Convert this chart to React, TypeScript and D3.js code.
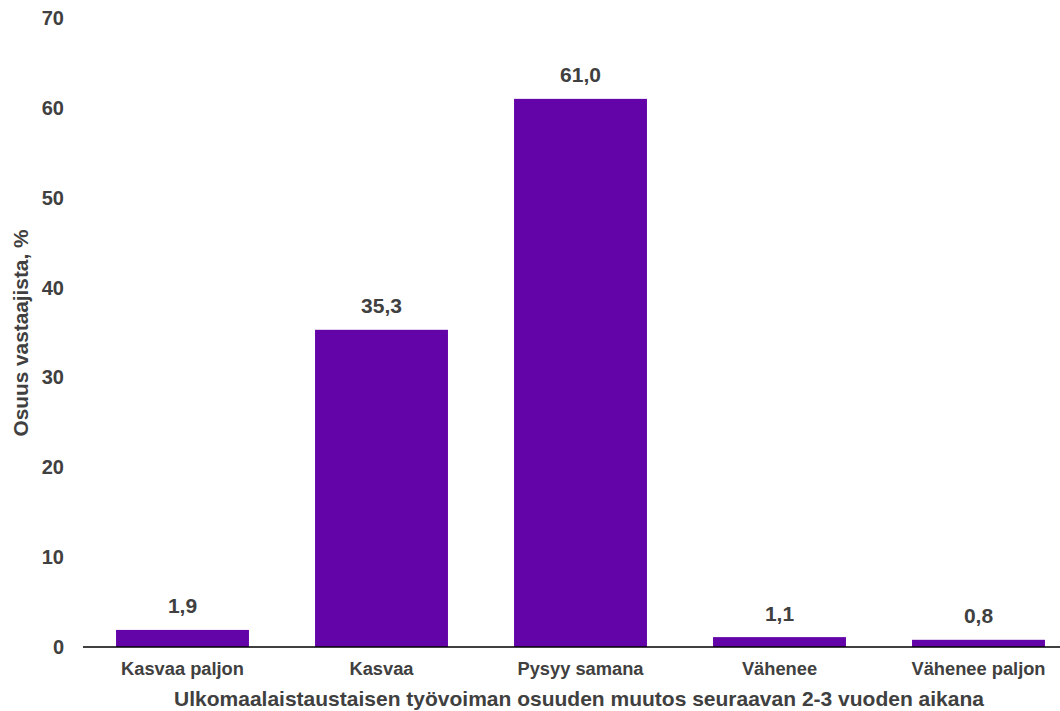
import React from "react";
import * as d3 from "d3";

const categories = ["Kasvaa paljon", "Kasvaa", "Pysyy samana", "Vähenee", "Vähenee paljon"];
const values = [1.9, 35.3, 61.0, 1.1, 0.8];
const yTicks = [0, 10, 20, 30, 40, 50, 60, 70];
const xTitle = "Ulkomaalaistaustaisen työvoiman osuuden muutos seuraavan 2-3 vuoden aikana";
const yTitle = "Osuus vastaajista, %";

const W = 1060, H = 711;
const font = "'Liberation Sans', Arial, sans-serif";
const textColor = "#404040";

export default function App() {
  const x = d3.scaleBand<string>().domain(categories).range([83, 1078]).paddingInner(0.332).paddingOuter(0.166);
  const y = d3.scaleLinear().domain([0, 70]).range([647, 18]);
  const fmt = (v: number) => v.toFixed(1).replace(".", ",");
  return (
    <svg width={W} height={H} style={{ position: "absolute", left: 0, top: 0, background: "#fff" }} fontFamily={font} fontWeight="bold">
      {yTicks.map((t) => (
        <text key={t} x={64} y={y(t)} dy="0.35em" textAnchor="end" fontSize={20} fill={textColor}>{t}</text>
      ))}
      {categories.map((c, i) => (
        <g key={c}>
          <rect x={x(c)} y={y(values[i])} width={x.bandwidth()} height={y(0) - y(values[i])} fill="#6304A8" />
          <text x={(x(c) as number) + x.bandwidth() / 2} y={y(values[i]) - 16.5} textAnchor="middle" fontSize={21} fill={textColor}>{fmt(values[i])}</text>
          <text x={(x(c) as number) + x.bandwidth() / 2} y={675} textAnchor="middle" fontSize={18.3} fill={textColor}>{c}</text>
        </g>
      ))}
      <line x1={83} x2={W} y1={y(0)} y2={y(0)} stroke="#000" strokeWidth={1.5} />
      <text x={579} y={706} textAnchor="middle" fontSize={21} fill={textColor}>{xTitle}</text>
      <text transform={`translate(28,${333}) rotate(-90)`} textAnchor="middle" fontSize={20.8} fill={textColor}>{yTitle}</text>
    </svg>
  );
}
